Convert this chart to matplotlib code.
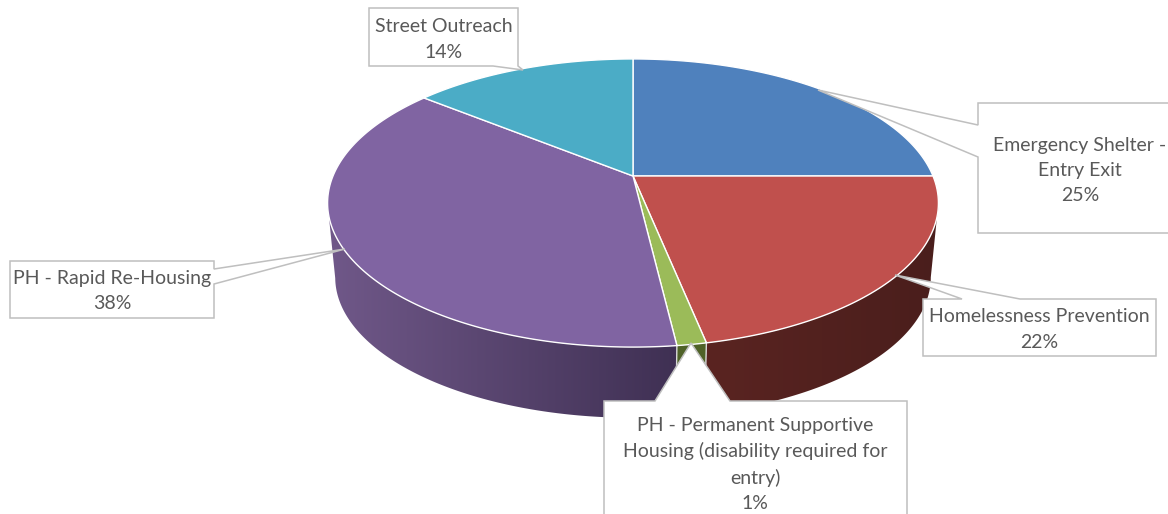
import numpy as np
import matplotlib
matplotlib.use("Agg")
import matplotlib.pyplot as plt
from matplotlib.colors import LinearSegmentedColormap
from matplotlib.patches import Polygon

# ---- data ----
categories = ["Emergency Shelter -\nEntry Exit", "Homelessness Prevention",
              "PH - Permanent Supportive\nHousing (disability required for\nentry)",
              "PH - Rapid Re-Housing", "Street Outreach"]
shares = [25.0, 21.8, 1.3, 37.7, 14.2]
percent_labels = ["25%", "22%", "1%", "38%", "14%"]

# ---- style ----
top_colors = ["#4F81BD", "#C0504D", "#9BBB59", "#8064A2", "#4BACC6"]
wall_left = ["#2A4365", "#5A2421", "#4F6228", "#705889", "#256070"]
wall_right = ["#2A4365", "#4A1E1C", "#4F6228", "#3F3053", "#256070"]
text_color = "#595959"
box_color = "#BFBFBF"
plt.rcParams["font.family"] = ["Lato", "DejaVu Sans"]

W, H = 1168, 514
fig = plt.figure(figsize=(W / 100, H / 100), dpi=100, facecolor="white")
ax = fig.add_axes([0, 0, 1, 1])
ax.axis("off")

# perspective projection of the tilted disc
CX, CY, RX, RY, K = 633.0, 176.0, 300.0, 139.0, 0.1875
BOTTOM_SCALE, BOTTOM_CY = 0.975, 251.0


def project(ang, scale=1.0, cy=CY):
    """ang: clockwise from 12 o'clock, radians."""
    x, y = np.sin(ang), np.cos(ang)
    s = 1.0 / (1.0 + K * y)
    return CX + RX * scale * x * s, cy - RY * scale * y * s


edges = np.cumsum([0.0] + shares) / sum(shares) * 2 * np.pi

# side wall: one horizontal gradient per slice, clipped to the wall outline
for i in range(len(shares)):
    ang = np.linspace(edges[i], edges[i + 1], 400)
    ang = ang[np.cos(ang) <= -K]          # front part, up to the silhouette tangents
    if len(ang) < 2:
        continue
    x_top, y_top = project(ang)
    x_bot, y_bot = project(ang, BOTTOM_SCALE, BOTTOM_CY)
    outline = Polygon(np.c_[np.r_[x_top, x_bot[::-1]], np.r_[y_top, y_bot[::-1]]],
                      closed=True, transform=ax.transData, facecolor="none", edgecolor="none")
    ax.add_patch(outline)
    cmap = LinearSegmentedColormap.from_list("w", [wall_left[i], wall_right[i]])
    x0, x1 = min(x_top.min(), x_bot.min()), max(x_top.max(), x_bot.max())
    y0, y1 = min(y_top.min(), y_bot.min()), max(y_top.max(), y_bot.max())
    img = ax.imshow(np.linspace(0, 1, 256)[None, :], cmap=cmap, aspect="auto",
                    extent=(x0, x1, y1, y0), zorder=2, interpolation="bilinear")
    img.set_clip_path(outline)

# white seams around the thin front slice
for a in (edges[2], edges[3]):
    xt, yt = project(a)
    xb, yb = project(a, BOTTOM_SCALE, BOTTOM_CY)
    ax.plot([xt, xb], [yt, yb], color="#D9D9D9", lw=1.0, zorder=3)

# top face
for i, col in enumerate(top_colors):
    ang = np.linspace(edges[i], edges[i + 1], 200)
    xs, ys = project(ang)
    ax.fill(np.r_[CX, xs], np.r_[CY, ys], facecolor=col, edgecolor="white",
            lw=1.0, joinstyle="round", zorder=4)

# callouts: box outline with a pointer to the slice
callouts = [
    dict(path=[(1175, 103), (978, 103), (978, 125), (818, 90), (978, 157), (978, 233), (1175, 233)],
         txt=(1080, 170.5)),
    dict(path=[(923, 299), (962, 299), (895, 275), (1020, 299), (1156, 299), (1156, 356), (923, 356)],
         txt=(1039, 329.5)),
    dict(path=[(604, 401), (655, 401), (691, 343), (730, 401), (907, 401), (907, 520), (604, 520)],
         txt=(755, 464.5)),
    dict(path=[(10, 261), (214, 261), (214, 269), (345, 249), (214, 284), (214, 318), (10, 318)],
         txt=(112, 291)),
    dict(path=[(369, 8), (518, 8), (518, 66), (523, 70), (493, 66), (369, 66)],
         txt=(443.5, 39.5)),
]
for i, c in enumerate(callouts):
    px, py = zip(*c["path"])
    ax.fill(px, py, facecolor="white", edgecolor=box_color, lw=1.1,
            joinstyle="miter", zorder=5)
    ax.text(c["txt"][0], c["txt"][1], categories[i] + "\n" + percent_labels[i],
            ha="center", va="center", ma="center", fontsize=14.0, color=text_color,
            linespacing=1.58, zorder=6)

ax.set_xlim(0, W)
ax.set_ylim(H, 0)
fig.savefig("out.png", dpi=100, facecolor="white")
